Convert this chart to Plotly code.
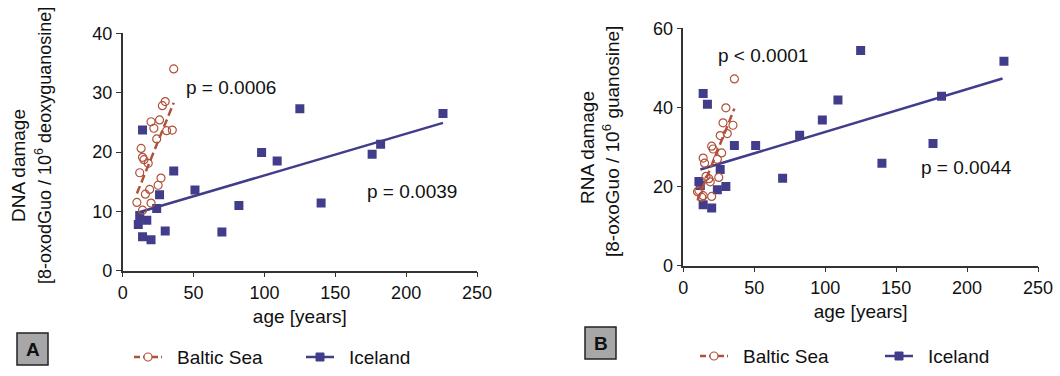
import plotly.graph_objects as go

W, H = 1060, 376

# ---------------- data ----------------
iceland_age = [11, 12, 14, 14, 17, 20, 24, 26, 30, 36, 51, 70, 82, 98, 109, 125, 140, 176, 182, 226]
iceland_dna = [7.8, 9.3, 23.7, 5.7, 8.5, 5.2, 10.5, 12.8, 6.7, 16.8, 13.6, 6.5, 11.0, 19.9, 18.5, 27.3, 11.4, 19.6, 21.3, 26.5]
iceland_rna = [21.3, 20.3, 43.5, 15.4, 40.8, 14.6, 19.2, 24.3, 20.0, 30.4, 30.4, 22.1, 33.0, 36.8, 41.9, 54.4, 25.9, 30.9, 42.8, 51.7]

baltic_age_dna = [10, 12, 13, 14, 15, 18, 14, 16, 19, 20, 25, 27, 20, 22, 24, 26, 28, 30, 31, 35, 36]
baltic_dna = [11.5, 16.5, 20.6, 19.1, 18.7, 18.1, 10.2, 12.9, 13.7, 11.4, 14.4, 15.6, 25.1, 24.0, 22.2, 25.4, 27.8, 28.5, 23.6, 23.7, 34.0]

baltic_age_rna = [10, 11, 13, 14, 14, 15, 16, 18, 19, 20, 20, 21, 24, 25, 26, 27, 28, 30, 31, 35, 36]
baltic_rna = [18.7, 19.0, 17.3, 27.2, 17.7, 25.9, 22.6, 22.0, 21.2, 30.2, 17.5, 29.5, 26.9, 22.3, 32.9, 28.5, 36.1, 39.9, 33.4, 35.5, 47.2]

# regression lines (end points)
fit_ice_dna_x = [11, 226]
fit_ice_dna_y = [9.8, 24.9]
fit_bal_dna_x = [10, 36]
fit_bal_dna_y = [13.0, 28.3]
fit_ice_rna_x = [12, 225]
fit_ice_rna_y = [24.3, 47.3]
fit_bal_rna_x = [10, 36]
fit_bal_rna_y = [16.5, 39.7]

x_ticks = [0, 50, 100, 150, 200, 250]
y_ticks_dna = [0, 10, 20, 30, 40]
y_ticks_rna = [0, 20, 40, 60]

p_labels = ["p = 0.0006", "p = 0.0039", "p < 0.0001", "p = 0.0044"]
legend_names = ["Baltic Sea", "Iceland"]
panel_letters = ["A", "B"]
y_titles_a = ["DNA damage", "[8-oxodGuo / 10<sup>6</sup> deoxyguanosine]"]
y_titles_b = ["RNA damage", "[8-oxoGuo / 10<sup>6</sup> guanosine]"]

# ---------------- style ----------------
ICE = "#413d8b"
BAL = "#b0523b"
FONT = "Liberation Sans, Arial, sans-serif"


def px(x):
    return x / W


def py(y):
    return 1 - y / H


fig = go.Figure()

# Panel A
fig.add_trace(go.Scatter(x=fit_ice_dna_x, y=fit_ice_dna_y, mode="lines",
                         line=dict(color=ICE, width=2.5), xaxis="x", yaxis="y", showlegend=False))
fig.add_trace(go.Scatter(x=iceland_age, y=iceland_dna, mode="markers",
                         marker=dict(symbol="square", size=9, color=ICE), xaxis="x", yaxis="y",
                         showlegend=False))
fig.add_trace(go.Scatter(x=baltic_age_dna, y=baltic_dna, mode="markers",
                         marker=dict(symbol="circle-open", size=8, color=BAL, line=dict(width=1.2)),
                         xaxis="x", yaxis="y", showlegend=False))
fig.add_trace(go.Scatter(x=fit_bal_dna_x, y=fit_bal_dna_y, mode="lines",
                         line=dict(color=BAL, width=2.5, dash="8px,4px"), xaxis="x", yaxis="y",
                         showlegend=False))

# Panel B
fig.add_trace(go.Scatter(x=fit_ice_rna_x, y=fit_ice_rna_y, mode="lines",
                         line=dict(color=ICE, width=2.5), xaxis="x2", yaxis="y2", showlegend=False))
fig.add_trace(go.Scatter(x=iceland_age, y=iceland_rna, mode="markers",
                         marker=dict(symbol="square", size=9, color=ICE), xaxis="x2", yaxis="y2",
                         showlegend=False))
fig.add_trace(go.Scatter(x=baltic_age_rna, y=baltic_rna, mode="markers",
                         marker=dict(symbol="circle-open", size=8, color=BAL, line=dict(width=1.2)),
                         xaxis="x2", yaxis="y2", showlegend=False))
fig.add_trace(go.Scatter(x=fit_bal_rna_x, y=fit_bal_rna_y, mode="lines",
                         line=dict(color=BAL, width=2.5, dash="8px,4px"), xaxis="x2", yaxis="y2",
                         showlegend=False))

axis_common = dict(showline=True, linecolor="#333333", linewidth=1.5, ticks="outside", ticklen=5,
                   tickwidth=1.2, tickcolor="#333333", showgrid=False, zeroline=False, automargin=False,
                   tickfont=dict(family=FONT, size=18, color="#111111"))

fig.update_layout(
    width=W, height=H,
    margin=dict(l=0, r=0, t=0, b=0, autoexpand=False),
    paper_bgcolor="white", plot_bgcolor="white",
    xaxis=dict(domain=[px(122.7), px(477)], range=[0, 250], tickvals=x_ticks, anchor="y",
               title=dict(text="age [years]", font=dict(family=FONT, size=19, color="#111111"), standoff=8),
               **axis_common),
    yaxis=dict(domain=[py(270.7), py(33.3)], range=[0, 40], tickvals=y_ticks_dna, anchor="x",
               **axis_common),
    xaxis2=dict(domain=[px(683.3), px(1038)], range=[0, 250], tickvals=x_ticks, anchor="y2",
                title=dict(text="age [years]", font=dict(family=FONT, size=19, color="#111111"), standoff=8),
                **axis_common),
    yaxis2=dict(domain=[py(265.7), py(28.3)], range=[0, 60], tickvals=y_ticks_rna, anchor="x2",
                **axis_common),
)

ann = []
# y-axis titles (two lines each)
for (cx, cy, fs), t in zip([(19, 166, 19), (43, 146, 18)], y_titles_a):
    ann.append(dict(x=px(cx), y=py(cy), xref="paper", yref="paper", textangle=-90, showarrow=False,
                    text=t, font=dict(family=FONT, size=fs, color="#111111"),
                    xanchor="center", yanchor="middle"))
for (cx, cy), t in zip([(588, 148), (611, 142)], y_titles_b):
    ann.append(dict(x=px(cx), y=py(cy), xref="paper", yref="paper", textangle=-90, showarrow=False,
                    text=t, font=dict(family=FONT, size=19, color="#111111"),
                    xanchor="center", yanchor="middle"))
# p-values
for (cx, cy), t in zip([(231, 87), (412, 191), (763, 55), (966, 167)], p_labels):
    ann.append(dict(x=px(cx), y=py(cy), xref="paper", yref="paper", text=t, showarrow=False,
                    font=dict(family=FONT, size=19, color="#111111"), xanchor="center", yanchor="middle"))

shapes = []
# panel letter boxes
for (x0, y0, x1, y1), letter in zip([(17, 333, 48, 365), (585, 327, 616, 359)], panel_letters):
    shapes.append(dict(type="rect", xref="paper", yref="paper", x0=px(x0), x1=px(x1), y0=py(y1), y1=py(y0),
                       fillcolor="#a7a7a9", line=dict(color="#222222", width=1.5)))
    ann.append(dict(x=px((x0 + x1) / 2), y=py((y0 + y1) / 2), xref="paper", yref="paper", text="<b>%s</b>" % letter,
                    showarrow=False, font=dict(family=FONT, size=19, color="#111111"),
                    xanchor="center", yanchor="middle"))

# legends
for bx, ix, ly in [(134, 306, 357), (700, 885, 356)]:
    shapes.append(dict(type="line", xref="paper", yref="paper", x0=px(bx), x1=px(bx + 28), y0=py(ly), y1=py(ly),
                       line=dict(color=BAL, width=2.5, dash="6px,3px")))
    shapes.append(dict(type="circle", xref="paper", yref="paper", x0=px(bx + 10), x1=px(bx + 18),
                       y0=py(ly + 4), y1=py(ly - 4), fillcolor="white", line=dict(color=BAL, width=1.2)))
    ann.append(dict(x=px(bx + 41), y=py(ly), xref="paper", yref="paper", text=legend_names[0], showarrow=False,
                    font=dict(family=FONT, size=19, color="#111111"), xanchor="left", yanchor="middle"))
    shapes.append(dict(type="line", xref="paper", yref="paper", x0=px(ix), x1=px(ix + 28), y0=py(ly), y1=py(ly),
                       line=dict(color=ICE, width=2.5)))
    shapes.append(dict(type="rect", xref="paper", yref="paper", x0=px(ix + 10), x1=px(ix + 18),
                       y0=py(ly + 4), y1=py(ly - 4), fillcolor=ICE, line=dict(color=ICE, width=1)))
    ann.append(dict(x=px(ix + 41), y=py(ly), xref="paper", yref="paper", text=legend_names[1], showarrow=False,
                    font=dict(family=FONT, size=19, color="#111111"), xanchor="left", yanchor="middle"))

fig.update_layout(annotations=ann, shapes=shapes)

fig.write_html("out.html")
